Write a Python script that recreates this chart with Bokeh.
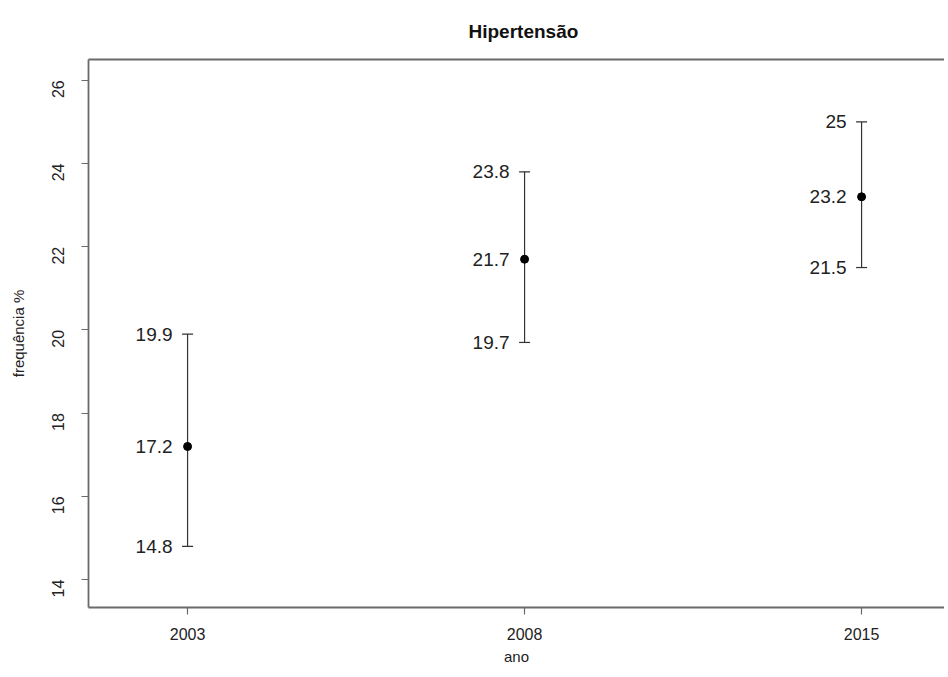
import math
from bokeh.plotting import figure
from bokeh.models import Range1d, FixedTicker, LinearAxis, ColumnDataSource
from bokeh.core.properties import value
from bokeh.embed import file_html
from bokeh.resources import INLINE

years = ["2003", "2008", "2015"]
means = [17.2, 21.7, 23.2]
lower = [14.8, 19.7, 21.5]
upper = [19.9, 23.8, 25.0]
y_ticks = [14, 16, 18, 20, 22, 24, 26]

xs = list(range(1, len(years) + 1))
src = ColumnDataSource(dict(
    x=xs, mean=means, lo=lower, hi=upper,
    mean_t=[f"{v:g}" for v in means],
    lo_t=[f"{v:g}" for v in lower],
    hi_t=[f"{v:g}" for v in upper],
))

FONT = "Liberation Sans"
W, H = 944, 669
LEFT = 88

p = figure(width=W, height=H, output_backend="svg", toolbar_location=None,
           x_range=Range1d(0.706, 0.706 + (W - LEFT) / 337.0), y_range=Range1d(13.33, 26.5),
           min_border_left=LEFT, min_border_right=0, min_border_top=59, min_border_bottom=62,
           x_axis_location=None, y_axis_location=None)
p.outline_line_color = None
p.grid.visible = False
p.background_fill_color = "white"
p.border_fill_color = "white"

p.title.text = "Hipertensão"
p.title.align = "left"
p.title.text_font = FONT
p.title.text_font_size = "19px"
p.title.text_font_style = "bold"
p.title.text_color = "#111111"
p.title.offset = 380
p.title.standoff = 36

AX_COLOR = "#6a6a6a"
TXT = "#222222"

xa = LinearAxis(ticker=FixedTicker(ticks=xs),
                major_label_overrides={i: y for i, y in zip(xs, years)})
xa.axis_label = "ano"
xa.axis_label_text_font = FONT
xa.axis_label_text_font_size = "15px"
xa.axis_label_text_font_style = "normal"
xa.axis_label_text_color = TXT
xa.axis_label_standoff = 5
xa.major_label_text_font = FONT
xa.major_label_text_font_size = "16px"
xa.major_label_text_color = TXT
xa.major_label_standoff = 13
xa.major_tick_out = 7
xa.major_tick_in = 0
xa.minor_tick_out = 0
xa.minor_tick_in = 0
xa.axis_line_color = AX_COLOR
xa.axis_line_width = 1.8
xa.major_tick_line_color = AX_COLOR
xa.major_tick_line_width = 1.2
p.add_layout(xa, "below")

ya = LinearAxis(ticker=FixedTicker(ticks=y_ticks))
ya.axis_label = "frequência %"
ya.axis_label_text_font = FONT
ya.axis_label_text_font_size = "15px"
ya.axis_label_text_font_style = "normal"
ya.axis_label_text_color = TXT
ya.axis_label_standoff = 17
ya.major_label_text_font = FONT
ya.major_label_text_font_size = "16px"
ya.major_label_text_color = TXT
ya.major_label_orientation = math.pi / 2
ya.major_label_standoff = 23
ya.major_tick_out = 7
ya.major_tick_in = 0
ya.minor_tick_out = 0
ya.minor_tick_in = 0
ya.axis_line_color = AX_COLOR
ya.axis_line_width = 1.8
ya.major_tick_line_color = AX_COLOR
ya.major_tick_line_width = 1.2
p.add_layout(ya, "left")

ta = LinearAxis(ticker=FixedTicker(ticks=[]))
ta.axis_line_color = AX_COLOR
ta.axis_line_width = 1.8
ta.major_tick_line_color = None
ta.minor_tick_line_color = None
ta.major_label_text_font_size = "0px"
p.add_layout(ta, "above")

p.segment(x0="x", y0="lo", x1="x", y1="hi", source=src, line_color="#333333", line_width=1.2)
p.scatter(x="x", y="lo", source=src, marker="dash", size=11, line_color="#333333", line_width=1.2)
p.scatter(x="x", y="hi", source=src, marker="dash", size=11, line_color="#333333", line_width=1.2)
p.scatter(x="x", y="mean", source=src, size=8, fill_color="black", line_color="black")

for col, ycol in (("mean_t", "mean"), ("lo_t", "lo"), ("hi_t", "hi")):
    p.text(x="x", y=ycol, text=col, source=src, x_offset=-15, text_align="right",
           text_baseline="middle", text_font=value(FONT), text_font_size="19px",
           text_color=TXT)

open("out.html", "w").write(file_html(p, INLINE))
